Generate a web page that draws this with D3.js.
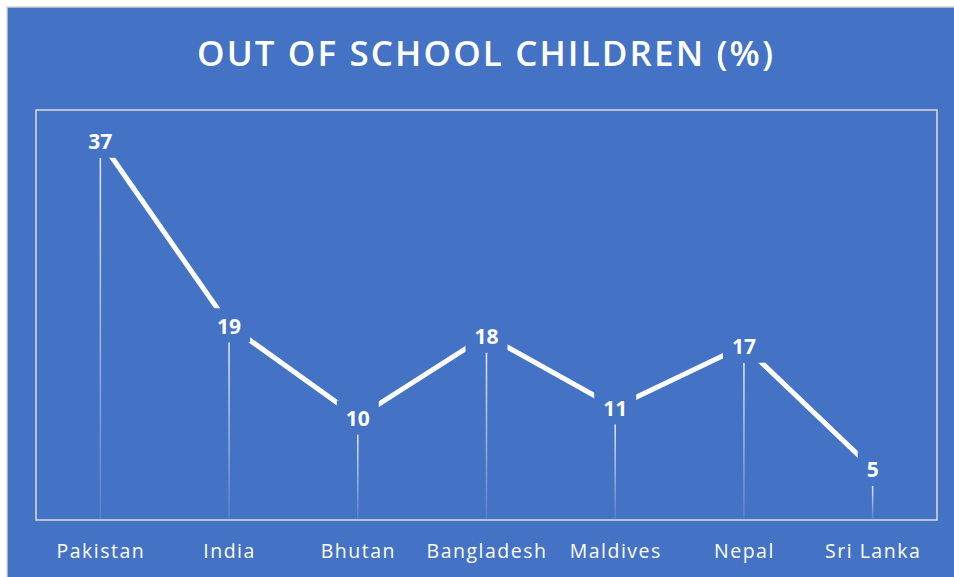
<!DOCTYPE html>
<html>
<head>
<meta charset="utf-8">
<script src="https://cdn.jsdelivr.net/npm/d3@7"></script>
<style>
  body { margin: 0; background: #fff; }
  svg { display: block; }
</style>
</head>
<body>
<script>
var TITLE = "OUT OF SCHOOL CHILDREN (%)";
var COUNTRIES = ["Pakistan", "India", "Bhutan", "Bangladesh", "Maldives", "Nepal", "Sri Lanka"];
var VALUES = [37, 19, 10, 18, 11, 17, 5];

var W = 954, H = 577;
var BG = "#4472C4";
var plot = { left: 36, right: 937, top: 110, bottom: 520 };

var svg = d3.select("body").append("svg").attr("width", W).attr("height", H);

// fondo azul con borde gris
svg.append("rect").attr("x", 7).attr("y", 7).attr("width", W).attr("height", H)
  .attr("fill", BG).attr("stroke", "#d4d4d4").attr("stroke-width", 1.5);

// gradiente para las lineas verticales
var defs = svg.append("defs");
var grad = defs.append("linearGradient").attr("id", "drop").attr("x1", 0).attr("y1", 0).attr("x2", 0).attr("y2", 1);
grad.append("stop").attr("offset", "0%").attr("stop-color", "#fff").attr("stop-opacity", 0.85);
grad.append("stop").attr("offset", "100%").attr("stop-color", "#fff").attr("stop-opacity", 0.1);

// titulo
svg.append("text").text(TITLE)
  .attr("x", 485).attr("y", 66)
  .attr("text-anchor", "middle")
  .attr("font-family", "'Open Sans', sans-serif").attr("font-weight", 600).attr("font-size", 35)
  .attr("fill", "#fff")
  .attr("textLength", 576).attr("lengthAdjust", "spacing");

// marco del area
svg.append("rect").attr("x", plot.left).attr("y", plot.top)
  .attr("width", plot.right - plot.left).attr("height", plot.bottom - plot.top)
  .attr("fill", "none").attr("stroke", "#dcdcdc").attr("stroke-width", 1.5);

var x = d3.scalePoint().domain(COUNTRIES).range([plot.left, plot.right]).padding(0.5);
var y = d3.scaleLinear().domain([0, 40]).range([plot.bottom, plot.top]);

var data = COUNTRIES.map(function (c, i) { return { name: c, value: VALUES[i] }; });

// eje x (solo etiquetas)
var xAxis = svg.append("g").attr("transform", "translate(0," + plot.bottom + ")")
  .call(d3.axisBottom(x).tickSize(0).tickPadding(24));
xAxis.select(".domain").remove();
xAxis.selectAll("text")
  .attr("font-family", "'Open Sans', sans-serif").attr("font-size", 19.5)
  .attr("letter-spacing", "1.5px")
  .attr("fill", "#fff");

var BOXH = 34;

// lineas verticales
svg.selectAll(".drop").data(data).enter().append("rect").attr("class", "drop")
  .attr("x", function (d) { return x(d.name) - 0.75; })
  .attr("y", function (d) { return y(d.value) + BOXH / 2; })
  .attr("width", 1.5)
  .attr("height", function (d) { return plot.bottom - 1 - (y(d.value) + BOXH / 2); })
  .attr("fill", "url(#drop)");

// linea
var line = d3.line().x(function (d) { return x(d.name); }).y(function (d) { return y(d.value); });
svg.append("path").datum(data).attr("d", line)
  .attr("fill", "none").attr("stroke", "#fff").attr("stroke-width", 5);

// etiquetas de datos con caja que tapa la linea
var lab = svg.selectAll(".lab").data(data).enter().append("g").attr("class", "lab")
  .attr("transform", function (d) { return "translate(" + x(d.name) + "," + y(d.value) + ")"; });
var box = lab.append("rect").attr("fill", BG);
var txt = lab.append("text").text(function (d) { return d.value; })
  .attr("text-anchor", "middle").attr("dy", "0.4em")
  .attr("font-family", "'Open Sans', sans-serif").attr("font-weight", "bold").attr("font-size", 21)
  .attr("fill", "#fff");
txt.each(function (d) {
  var w = this.getComputedTextLength() + 18;
  d3.select(this.parentNode).select("rect")
    .attr("x", -w / 2).attr("y", -BOXH / 2).attr("width", w).attr("height", BOXH);
});
</script>
</body>
</html>
